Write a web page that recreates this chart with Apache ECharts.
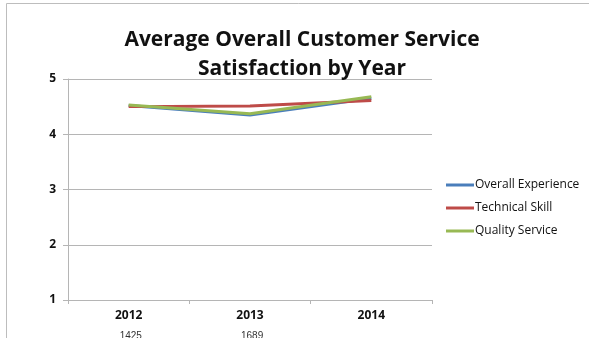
<!DOCTYPE html>
<html>
<head>
<meta charset="utf-8">
<script src="https://cdn.jsdelivr.net/npm/echarts@6/dist/echarts.min.js"></script>
<style>
  html, body { margin: 0; padding: 0; background: #fff; }
  #chart { width: 589px; height: 338px; }
</style>
</head>
<body>
<div id="chart"></div>
<script>
// Survey years and average satisfaction scores (1-5 scale)
const years = ['2012', '2013', '2014'];
const overallExperience = [4.52, 4.35, 4.65];
const technicalSkill = [4.50, 4.51, 4.61];
const qualityService = [4.53, 4.37, 4.68];
// Number of responses per year
const responses = ['1425', '1689'];
const yTicks = [1, 2, 3, 4, 5];

const chart = echarts.init(document.getElementById('chart'));

const gridLeft = 68, gridRight = 157, gridTop = 79, gridBottom = 38;
const bandWidth = (589 - gridLeft - gridRight) / years.length;

const responseLabels = responses.map((n, i) => ({
  type: 'text',
  left: gridLeft + bandWidth * (i + 0.5) - 9,
  top: 331,
  style: { text: n, fill: '#333', font: '10px "Liberation Sans", Arial, sans-serif' }
}));

chart.setOption({
  animation: false,
  title: {
    text: 'Average Overall Customer Service\nSatisfaction by Year',
    left: 297,
    textAlign: 'center',
    top: 21,
    textStyle: {
      fontFamily: '"Open Sans", sans-serif',
      fontWeight: 'bold',
      fontSize: 21,
      lineHeight: 29,
      color: '#111'
    }
  },
  legend: {
    orient: 'vertical',
    left: 441,
    top: 174,
    itemWidth: 28,
    itemHeight: 3,
    itemGap: 11,
    icon: 'rect',
    textStyle: { fontFamily: '"Open Sans", sans-serif', fontSize: 12, color: '#111', padding: [0, 0, 0, -4] },
    data: ['Overall Experience', 'Technical Skill', 'Quality Service']
  },
  grid: { left: gridLeft, right: gridRight, top: gridTop, bottom: gridBottom },
  xAxis: {
    type: 'category',
    data: years,
    boundaryGap: true,
    axisLine: { lineStyle: { color: '#b5b5b5', width: 1 } },
    axisTick: { show: true, length: 4, lineStyle: { color: '#b5b5b5' } },
    axisLabel: {
      margin: 10,
      fontFamily: '"Open Sans", sans-serif',
      fontWeight: 'bold',
      fontSize: 12,
      color: '#111'
    }
  },
  yAxis: {
    type: 'value',
    min: yTicks[0],
    max: yTicks[yTicks.length - 1],
    interval: 1,
    axisLine: { show: true, lineStyle: { color: '#b5b5b5', width: 1 } },
    axisTick: { show: true, length: 5, lineStyle: { color: '#b5b5b5' } },
    splitLine: { show: true, lineStyle: { color: '#b5b5b5', width: 1 } },
    axisLabel: {
      margin: 12,
      fontFamily: '"Open Sans", sans-serif',
      fontWeight: 'bold',
      fontSize: 12,
      color: '#111'
    }
  },
  series: [
    {
      name: 'Overall Experience', type: 'line', data: overallExperience,
      symbol: 'none', lineStyle: { width: 3, color: '#4a7ebb' }, itemStyle: { color: '#4a7ebb' }
    },
    {
      name: 'Technical Skill', type: 'line', data: technicalSkill,
      symbol: 'none', lineStyle: { width: 3, color: '#be4b48' }, itemStyle: { color: '#be4b48' }
    },
    {
      name: 'Quality Service', type: 'line', data: qualityService,
      symbol: 'none', lineStyle: { width: 3, color: '#98b954' }, itemStyle: { color: '#98b954' }
    }
  ],
  graphic: [
    {
      type: 'rect',
      shape: { x: 6.5, y: 3.5, width: 620, height: 400 },
      style: { fill: 'none', stroke: '#bdbdbd', lineWidth: 1 },
      silent: true
    },
    ...responseLabels
  ]
});
</script>
</body>
</html>
